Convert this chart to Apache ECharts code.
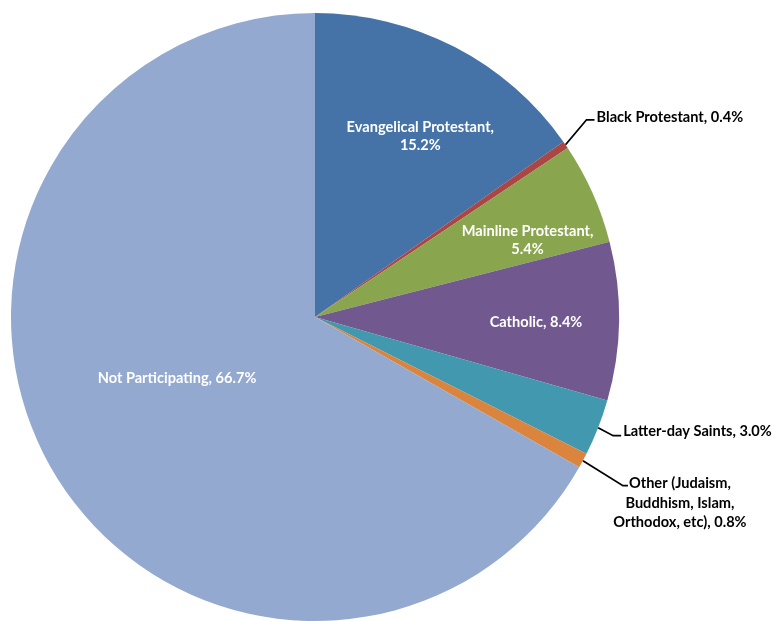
<!DOCTYPE html>
<html>
<head>
<meta charset="utf-8">
<script src="https://cdn.jsdelivr.net/npm/echarts@6/dist/echarts.min.js"></script>
<style>html,body{margin:0;padding:0;background:#fff}#c{width:773px;height:621px}</style>
</head>
<body>
<div id="c"></div>
<script>
// ---- data ----
const categories = [
  'Evangelical Protestant',
  'Black Protestant',
  'Mainline Protestant',
  'Catholic',
  'Latter-day Saints',
  'Other (Judaism,\nBuddhism, Islam,\nOrthodox, etc)',
  'Not Participating'
];
const shares = [15.2, 0.4, 5.4, 8.4, 3.0, 0.8, 66.7];
const labelBreak = [true, false, true, false, false, false, false]; // value on new line

// ---- styles ----
const colors = ['#4572A7', '#AA4643', '#89A54E', '#71588F', '#4198AF', '#DB843D', '#93A9CF'];
const insideOffsets = { 0: [34, -43], 2: [71, -14], 3: [66, 3], 6: [-4, -17] };
const outsideStyle = {
  1: { dx: 21, dy: -25, len2: 8, gap: 2, ty: -3, align: 'left' },
  4: { dx: 15, dy: 8, len2: 8, gap: 2, ty: -4, align: 'left' },
  5: { dx: 40, dy: 25, len2: 5, gap: 52, ty: 17.5, align: 'center' }
};
const FONT = 'Lato, "Open Sans", sans-serif';

const chart = echarts.init(document.getElementById('c'), null, { renderer: 'canvas' });

const data = categories.map((name, i) => {
  const isInside = insideOffsets[i] !== undefined;
  return {
    name: name,
    value: shares[i],
    itemStyle: { color: colors[i] },
    label: isInside ? {
      position: 'inside',
      offset: insideOffsets[i],
      color: '#ffffff',
      lineHeight: 18
    } : {
      position: 'outside',
      color: '#000000',
      lineHeight: 19.5,
      align: outsideStyle[i].align
    },
    labelLine: { show: !isInside }
  };
});

chart.setOption({
  animation: false,
  backgroundColor: '#ffffff',
  series: [{
    type: 'pie',
    center: [315, 317],
    radius: [0, 304],
    startAngle: 90,
    clockwise: true,
    avoidLabelOverlap: false,
    minShowLabelAngle: 0,
    data: data,
    itemStyle: { borderWidth: 0 },
    label: {
      show: true,
      fontFamily: FONT,
      fontWeight: 'bold',
      fontSize: 14.6,
      formatter: function (p) {
        return p.name + ',' + (labelBreak[p.dataIndex] ? '\n' : ' ') + p.value.toFixed(1) + '%';
      }
    },
    labelLine: {
      show: true,
      length: 20,
      length2: 8,
      smooth: false,
      lineStyle: { color: '#000000', width: 1.8 }
    },
    labelLayout: function (p) {
      const s = outsideStyle[p.dataIndex];
      if (!s || !p.labelLinePoints) return {};
      const e = p.labelLinePoints[0];
      const p1 = [e[0] + s.dx, e[1] + s.dy];
      const p2 = [p1[0] + s.len2, p1[1]];
      return {
        x: p2[0] + s.gap,
        y: p2[1] + s.ty,
        align: s.align,
        verticalAlign: 'middle',
        labelLinePoints: [e, p1, p2]
      };
    }
  }]
});
</script>
</body>
</html>
